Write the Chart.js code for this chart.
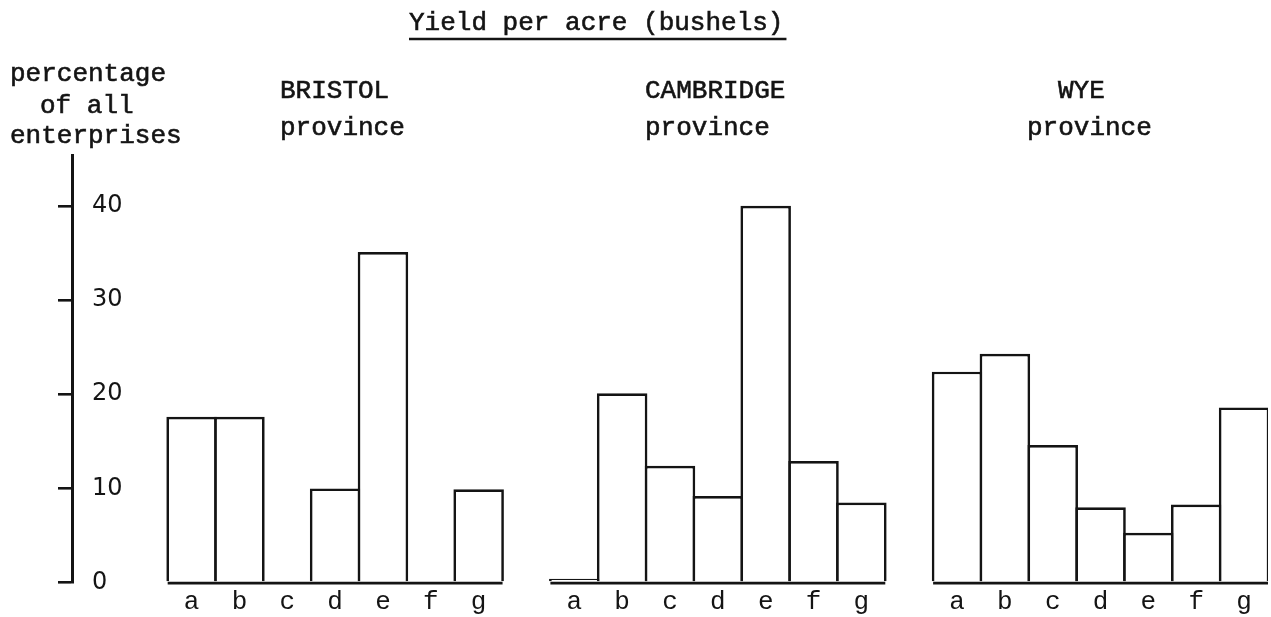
<!DOCTYPE html>
<html>
<head>
<meta charset="utf-8">
<script src="https://cdn.jsdelivr.net/npm/chart.js@4.4.1/dist/chart.umd.min.js"></script>
<style>
  html, body { margin: 0; padding: 0; background: #ffffff; }
  #wrap { position: relative; width: 1271px; height: 617px; }
  canvas { display: block; }
</style>
</head>
<body>
<div id="wrap"><canvas id="c" width="1271" height="617"></canvas></div>
<script>
// ---- data ----
const provinces = ['BRISTOL', 'CAMBRIDGE', 'WYE'];
const classes = ['a', 'b', 'c', 'd', 'e', 'f', 'g'];
const bristol = [17.6, 17.6, 0, 10.0, 35.1, 0, 9.9];
const cambridge = [0.4, 20.1, 12.4, 9.2, 40.0, 12.9, 8.5];
const wye = [22.4, 24.3, 14.6, 8.0, 5.3, 8.3, 18.6];
const yTicks = [0, 10, 20, 30, 40];
const titleText = 'Yield per acre (bushels)';
const yTitleLines = ['percentage', 'of all', 'enterprises'];
const subLabel = 'province';

// ---- build category slots: 2 blanks, group, blank, group, blank, group ----
const labels = ['', ''];
const values = [null, null];
const groupStart = [];
[bristol, cambridge, wye].forEach((g, i) => {
  if (i > 0) { labels.push(''); values.push(null); }
  groupStart.push(labels.length);
  classes.forEach((c, j) => { labels.push(c); values.push(g[j]); });
});

const ink = '#141414';
const mono = '"Liberation Mono", "DejaVu Sans Mono", monospace';
const BW = 2.7;

function inkText(ctx, t, x, y) {
  ctx.fillText(t, x, y);
  ctx.strokeText(t, x, y);
}

const decor = {
  id: 'decor',
  afterDraw(chart) {
    const { ctx, scales: { x, y } } = chart;
    ctx.save();
    // group baselines
    const y0 = y.getPixelForValue(0);
    const half = (x.getPixelForValue(1) - x.getPixelForValue(0)) / 2;
    ctx.strokeStyle = ink;
    ctx.lineWidth = 2.9;
    groupStart.forEach(s => {
      ctx.beginPath();
      ctx.moveTo(x.getPixelForValue(s) - half, y0 + 0.5);
      ctx.lineTo(x.getPixelForValue(s + classes.length - 1) + half, y0 + 0.5);
      ctx.stroke();
    });

    ctx.fillStyle = ink;
    ctx.font = '26px ' + mono;
    ctx.textAlign = 'left';
    ctx.textBaseline = 'alphabetic';
    ctx.lineWidth = 0.6;
    // title with underline
    const tx = 409, ty = 30;
    inkText(ctx, titleText, tx, ty);
    const tw = ctx.measureText(titleText).width;
    ctx.lineWidth = 2.4;
    ctx.beginPath();
    ctx.moveTo(tx, 39);
    ctx.lineTo(tx + tw + 3, 39);
    ctx.stroke();
    ctx.lineWidth = 0.6;

    // y axis title
    const yTitlePos = [[10, 81], [40, 113], [10, 143]];
    yTitleLines.forEach((t, i) => inkText(ctx, t, yTitlePos[i][0], yTitlePos[i][1]));

    // province headings
    const headPos = [[280, 280], [645, 645], [1058, 1027]];
    provinces.forEach((p, i) => {
      inkText(ctx, p, headPos[i][0], 98);
      inkText(ctx, subLabel, headPos[i][1], 135);
    });
    ctx.restore();
  }
};

new Chart(document.getElementById('c'), {
  type: 'bar',
  data: {
    labels: labels,
    datasets: [{
      data: values,
      backgroundColor: '#ffffff',
      borderColor: ink,
      borderWidth: BW,
      borderSkipped: 'start',
      barPercentage: 1.056,
      categoryPercentage: 1
    }]
  },
  options: {
    responsive: false,
    animation: false,
    devicePixelRatio: 1,
    layout: { padding: { left: 58, right: 3, top: 155, bottom: 0 } },
    plugins: {
      legend: { display: false },
      tooltip: { enabled: false },
      title: { display: false }
    },
    scales: {
      x: {
        afterFit: s => { s.height = 32.5; },
        grid: { display: false, drawTicks: false },
        border: { display: false },
        ticks: {
          color: ink,
          font: { family: mono, size: 26, lineHeight: 1 },
          padding: 7,
          maxRotation: 0,
          autoSkip: false
        }
      },
      y: {
        min: 0,
        max: 45.4,
        afterFit: s => { s.width = 14; },
        afterBuildTicks: s => { s.ticks = yTicks.map(v => ({ value: v })); },
        grid: { drawOnChartArea: false, drawTicks: true, tickLength: 14, color: ink, lineWidth: 2.6 },
        border: { display: true, color: ink, width: 3 },
        ticks: {
          mirror: true,
          padding: 20,
          color: ink,
          font: { family: '"DejaVu Sans", sans-serif', size: 24 }
        }
      }
    }
  },
  plugins: [decor]
});
</script>
</body>
</html>
